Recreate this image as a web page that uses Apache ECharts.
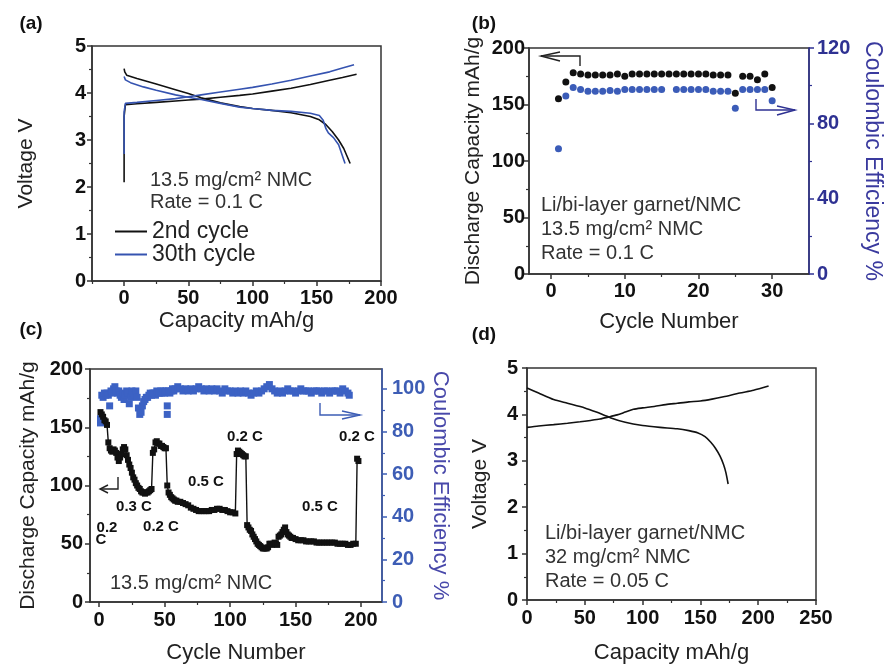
<!DOCTYPE html>
<html><head><meta charset="utf-8">
<script src="https://cdn.jsdelivr.net/npm/echarts@6/dist/echarts.min.js"></script>
<style>html,body{margin:0;padding:0;background:#fff}#c{width:885px;height:665px}</style>
</head><body><div id="c"></div>
<script>
// ---------- DATA ----------
// (a) voltage profiles [capacity mAh/g, voltage V]
const aCycle2Charge = [[0,2.1],[0,3.5],[1,3.75],[10,3.77],[25,3.8],[40,3.83],[50,3.85],[60,3.87],[75,3.91],[90,3.95],[100,3.98],[115,4.04],[130,4.1],[145,4.18],[160,4.27],[170,4.33],[181,4.4]];
const aCycle2Discharge = [[0,4.52],[0.5,4.45],[2,4.38],[10,4.31],[25,4.19],[40,4.07],[50,3.99],[60,3.9],[75,3.79],[90,3.71],[100,3.67],[115,3.63],[130,3.58],[145,3.5],[152,3.43],[157,3.33],[162,3.18],[167,3.0],[171,2.82],[176,2.5]];
const aCycle30Charge = [[0,2.7],[0,3.6],[1,3.78],[10,3.8],[25,3.84],[40,3.88],[50,3.92],[60,3.96],[75,4.02],[90,4.08],[100,4.12],[115,4.19],[130,4.27],[145,4.36],[160,4.45],[170,4.53],[179,4.6]];
const aCycle30Discharge = [[0,4.35],[1,4.28],[5,4.22],[15,4.13],[25,4.06],[40,3.96],[50,3.91],[60,3.86],[75,3.78],[90,3.7],[100,3.67],[115,3.63],[130,3.61],[145,3.57],[152,3.52],[155,3.42],[157,3.25],[159,3.15],[163,3.05],[167,2.9],[172,2.5]];

// (b) cycling at 0.1 C
const bCycles = [1,2,3,4,5,6,7,8,9,10,11,12,13,14,15,16,17,18,19,20,21,22,23,24,25,26,27,28,29,30];
const bCapacity = [155,170,178,177,176,176,176,176,177,175,177,177,177,177,177,177,177,177,177,177,177,176,176,176,160,175,175,172,177,165];
const bEfficiency = [66.5,94.5,99,98,97,97,97,97.5,97,98,98,98,98,98,98,null,98,98,98,98,98,97,97,97,88,98,98,98,98,92];

// (c) rate capability [cycle, value]
const cCapacity = [[1,163],[2,161],[3,159],[4,156],[5,155],[6,152],[7,137],[8,132],[9,130],[10,129],[11,131],[12,130],[13,128],[14,124],[15,121],[16,124],[17,127],[18,131],[19,133],[20,131],[21,126],[22,122],[23,118],[24,115],[25,111],[26,107],[27,105],[28,102],[29,100],[30,98],[31,97],[32,95],[33,94],[34,94],[35,93],[36,94],[37,94],[38,95],[39,96],[40,97],[41,128],[42,131],[43,137],[44,138],[45,136],[46,136],[47,134],[48,134],[49,133],[50,132],[51,132],[52,100],[53,94],[54,92],[55,90],[56,89],[57,88],[58,87],[59,87],[60,86],[62,86],[64,85],[66,84],[68,83],[70,81],[72,80],[74,79],[76,78],[78,78],[80,78],[82,78],[84,78],[86,79],[88,79],[90,80],[92,80],[94,79],[96,79],[98,78],[100,77],[102,77],[104,76],[105,127],[106,130],[107,129],[108,128],[109,127],[110,126],[111,125],[112,125],[113,66],[114,64],[115,62],[116,61],[117,58],[118,56],[119,54],[120,52],[121,50],[122,49],[123,48],[124,47],[125,46],[126,46],[127,46],[128,46],[129,47],[130,50],[131,50],[132,49],[133,50],[134,51],[135,50],[136,49],[137,56],[138,57],[139,58],[140,60],[141,62],[142,64],[143,60],[144,58],[145,57],[146,56],[147,55],[148,55],[150,54],[152,53],[154,53],[156,53],[158,52],[160,52],[162,52],[164,52],[166,51],[168,51],[170,51],[172,51],[174,51],[176,51],[178,51],[180,51],[182,50],[184,50],[186,50],[188,50],[190,49],[192,49],[194,50],[196,50],[197,123],[198,121]];
const cEfficiency = [[1,84],[1,86],[2,97],[3,96],[4,98],[5,97],[6,98],[7,97],[8,92],[9,99],[10,98],[11,100],[12,101],[13,99],[14,98],[15,99],[16,97],[17,96],[18,98],[19,95],[20,97],[21,99],[22,98],[23,93],[24,96],[25,99],[26,98],[27,97],[28,99],[29,96],[30,91],[31,88],[32,89],[33,92],[34,94],[35,95],[36,96],[37,96],[38,97],[39,98],[40,97],[41,98],[42,98],[43,97],[44,99],[45,98],[46,98],[47,99],[48,98],[49,99],[50,98],[51,99],[52,92],[52,88],[53,99],[54,98],[55,99],[56,100],[57,99],[58,100],[60,101],[62,100],[64,99],[66,100],[68,99],[70,100],[72,99],[74,100],[76,101],[78,100],[80,99],[82,100],[84,99],[86,100],[88,99],[90,100],[92,99],[94,98],[96,100],[98,99],[100,99],[102,98],[104,99],[106,98],[108,99],[110,98],[112,99],[114,98],[116,97],[118,98],[120,99],[122,98],[124,99],[126,100],[128,101],[130,102],[132,100],[134,99],[136,98],[138,99],[140,98],[142,99],[144,100],[146,99],[148,99],[150,98],[152,99],[154,100],[156,99],[158,99],[160,99],[162,98],[164,99],[166,99],[168,99],[170,98],[172,99],[174,99],[176,98],[178,99],[180,99],[182,99],[184,98],[186,100],[188,99],[190,98],[191,97]];

// (d) 32 mg/cm2 voltage profile
const dCharge = [[0,3.72],[10,3.75],[23,3.78],[35,3.81],[46,3.84],[55,3.87],[63,3.9],[70,3.94],[78,3.99],[85,4.05],[92,4.11],[100,4.14],[110,4.17],[120,4.21],[130,4.24],[140,4.27],[150,4.29],[160,4.33],[170,4.38],[184,4.46],[196,4.52],[209,4.61]];
const dDischarge = [[0,4.57],[10,4.46],[23,4.32],[35,4.24],[50,4.14],[60,4.05],[72,3.93],[85,3.83],[100,3.76],[115,3.72],[130,3.69],[140,3.65],[148,3.6],[154,3.52],[159,3.4],[163,3.27],[167,3.1],[170,2.92],[172,2.75],[174,2.5]];

// tick labels
const aXTicks=[0,50,100,150,200], aXMinor=[-25,25,75,125,175];
const vTicks=[0,1,2,3,4,5], vMinor=[0.5,1.5,2.5,3.5,4.5];
const bXTicks=[0,10,20,30], bXMinor=[5,15,25];
const capTicks=[0,50,100,150,200], capMinor=[25,75,125,175];
const bRTicks=[0,40,80,120], bRMinor=[20,60,100];
const cXTicks=[0,50,100,150,200], cXMinor=[25,75,125,175];
const cRTicks=[0,20,40,60,80,100], cRMinor=[10,30,50,70,90];
const dXTicks=[0,50,100,150,200,250], dXMinor=[25,75,125,175,225];

// ---------- CHART ----------
const F = "'Liberation Sans', Arial, sans-serif";
const xAxes=[], yAxes=[];
function addAxis(list,o){
  const idx=list.length, col=o.color||'#333';
  list.push({type:'value',gridIndex:o.grid,min:o.min,max:o.max,position:o.pos,
    name:o.name||'',nameLocation:'middle',nameGap:o.nameGap||0,nameRotate:o.nameRotate,
    nameTextStyle:{fontFamily:F,fontSize:o.nameSize||21,color:o.nameColor||'#222'},
    axisLine:{show:true,onZero:false,lineStyle:{color:col,width:1.5}},
    axisTick:{show:true,inside:false,length:5,customValues:o.majors,lineStyle:{color:col,width:1.5}},
    axisLabel:{show:true,customValues:o.majors,margin:o.margin,fontFamily:F,fontSize:20,fontWeight:'bold',color:o.labelColor||'#111'},
    splitLine:{show:false}});
  list.push({type:'value',gridIndex:o.grid,min:o.min,max:o.max,position:o.pos,
    axisLine:{show:false,onZero:false},axisLabel:{show:false},splitLine:{show:false},
    axisTick:{show:true,inside:false,length:3,customValues:o.minors,lineStyle:{color:col,width:1.2}}});
  return idx;
}
const grids=[
  {left:92,top:46,width:289,height:235},
  {left:529,top:48,width:280,height:226},
  {left:90,top:369,width:292,height:235},
  {left:527,top:368,width:289,height:234}
].map(g=>Object.assign(g,{show:true,borderColor:'#333',borderWidth:1.5,backgroundColor:'transparent'}));

const BLUE_R='#2e3192', BLUE_C='#3d5db5';
// (a)
const ax=addAxis(xAxes,{grid:0,min:-25,max:200,majors:aXTicks,minors:aXMinor,pos:'bottom',margin:7,name:'Capacity mAh/g',nameGap:29,nameSize:22});
const ay=addAxis(yAxes,{grid:0,min:0,max:5,majors:vTicks,minors:vMinor,pos:'left',margin:6,name:'Voltage V',nameGap:55,nameSize:21});
// (b)
const bx=addAxis(xAxes,{grid:1,min:-3,max:35,majors:bXTicks,minors:bXMinor,pos:'bottom',margin:7,name:'Cycle Number',nameGap:37,nameSize:22});
const byL=addAxis(yAxes,{grid:1,min:0,max:200,majors:capTicks,minors:capMinor,pos:'left',margin:4,name:'Discharge Capacity mAh/g',nameGap:45,nameSize:21});
const byR=addAxis(yAxes,{grid:1,min:0,max:120,majors:bRTicks,minors:bRMinor,pos:'right',margin:8,color:BLUE_R,labelColor:BLUE_R,name:'Coulombic Efficiency %',nameGap:52,nameSize:23,nameRotate:-90,nameColor:'#3a3a9e'});
// (c)
const cx=addAxis(xAxes,{grid:2,min:-7,max:216,majors:cXTicks,minors:cXMinor,pos:'bottom',margin:8,name:'Cycle Number',nameGap:40,nameSize:22});
const cyL=addAxis(yAxes,{grid:2,min:0,max:200,majors:capTicks,minors:capMinor,pos:'left',margin:7,name:'Discharge Capacity mAh/g',nameGap:51,nameSize:21});
const cyR=addAxis(yAxes,{grid:2,min:0,max:109.3,majors:cRTicks,minors:cRMinor,pos:'right',margin:10,color:BLUE_C,labelColor:BLUE_C,name:'Coulombic Efficiency %',nameGap:45,nameSize:22,nameRotate:-90,nameColor:'#4848aa'});
// (d)
const dx=addAxis(xAxes,{grid:3,min:0,max:250,majors:dXTicks,minors:dXMinor,pos:'bottom',margin:8,name:'Capacity mAh/g',nameGap:42,nameSize:22});
const dy=addAxis(yAxes,{grid:3,min:0,max:5,majors:vTicks,minors:vMinor,pos:'left',margin:9,name:'Voltage V',nameGap:36,nameSize:21});

function line(name,data,xi,yi,color,extra){
  return Object.assign({type:'line',name:name,data:data,xAxisIndex:xi,yAxisIndex:yi,showSymbol:false,symbol:'none',
    lineStyle:{color:color,width:1.6},itemStyle:{color:color},animation:false,z:3},extra||{});
}
const BLACK='#111', BL='#3553b0';
const series=[
  line('2nd cycle',aCycle2Charge,ax,ay,BLACK),
  line('2nd cycle',aCycle2Discharge,ax,ay,BLACK),
  line('30th cycle',aCycle30Charge,ax,ay,BL),
  line('30th cycle',aCycle30Discharge,ax,ay,BL),
  {type:'scatter',name:'capB',data:bCycles.map((c,i)=>[c,bCapacity[i]]),xAxisIndex:bx,yAxisIndex:byL,symbolSize:7,itemStyle:{color:BLACK,opacity:1},animation:false},
  {type:'scatter',name:'effB',data:bCycles.map((c,i)=>bEfficiency[i]==null?null:[c,bEfficiency[i]]).filter(d=>d),xAxisIndex:bx,yAxisIndex:byR,symbolSize:7,itemStyle:{color:'#3b5cb8',opacity:1},animation:false},
  {type:'scatter',name:'effC',data:cEfficiency,xAxisIndex:cx,yAxisIndex:cyR,symbol:'rect',symbolSize:7,itemStyle:{color:'#3c62c4',opacity:1},animation:false},
  {type:'line',name:'capC',data:cCapacity,xAxisIndex:cx,yAxisIndex:cyL,symbol:'rect',symbolSize:6,showSymbol:true,lineStyle:{color:BLACK,width:1.4},itemStyle:{color:BLACK},animation:false},
  line('d1',dCharge,dx,dy,BLACK,{smooth:0.25}),
  line('d2',dDischarge,dx,dy,BLACK,{smooth:0.25})
];

function txt(x,y,t,o){
  return {type:'text',x:x,y:y,z:100,style:Object.assign({text:t,fontFamily:F,fontSize:20,fill:'#333',textVerticalAlign:'middle',verticalAlign:'middle'},o||{})};
}
function poly(pts,color){
  return {type:'polyline',z:100,shape:{points:pts},style:{stroke:color,lineWidth:1.4,fill:null}};
}
const rateStyle={fontSize:15,fontWeight:'bold',fill:'#111',align:'center',textAlign:'center'};
const graphics=[
  txt(31,24,'(a)',{fontSize:19,fontWeight:'bold',fill:'#111',align:'center',textAlign:'center'}),
  txt(484,24,'(b)',{fontSize:19,fontWeight:'bold',fill:'#111',align:'center',textAlign:'center'}),
  txt(31,330,'(c)',{fontSize:19,fontWeight:'bold',fill:'#111',align:'center',textAlign:'center'}),
  txt(484,335,'(d)',{fontSize:19,fontWeight:'bold',fill:'#111',align:'center',textAlign:'center'}),
  txt(150,180,'13.5 mg/cm² NMC'),
  txt(150,202,'Rate = 0.1 C'),
  txt(541,205,'Li/bi-layer garnet/NMC'),
  txt(541,229,'13.5 mg/cm² NMC'),
  txt(541,253,'Rate = 0.1 C'),
  txt(110,583,'13.5 mg/cm² NMC'),
  txt(545,533,'Li/bi-layer garnet/NMC'),
  txt(545,557,'32 mg/cm² NMC'),
  txt(545,581,'Rate = 0.05 C'),
  txt(245,437,'0.2 C',rateStyle),
  txt(357,437,'0.2 C',rateStyle),
  txt(206,482,'0.5 C',rateStyle),
  txt(134,507,'0.3 C',rateStyle),
  txt(161,527,'0.2 C',rateStyle),
  txt(320,507,'0.5 C',rateStyle),
  txt(107,528,'0.2',rateStyle),
  txt(101,540,'C',rateStyle),
  // arrows (b)
  poly([[580,66],[580,56],[541,56]],'#222'),
  poly([[560,52],[541,56],[560,61]],'#222'),
  poly([[756,99],[756,110],[795,110]],BLUE_R),
  poly([[777,106],[795,110],[777,115]],BLUE_R),
  // arrows (c)
  poly([[118,477],[118,489],[100,489]],'#222'),
  poly([[108,485],[100,489],[108,493]],'#222'),
  poly([[320,403],[320,415],[360,415]],BLUE_C),
  poly([[342,411],[360,415],[342,419]],BLUE_C)
];

const chart=echarts.init(document.getElementById('c'),null,{renderer:'canvas'});
chart.setOption({
  backgroundColor:'#fff',
  animation:false,
  grid:grids, xAxis:xAxes, yAxis:yAxes, series:series,
  legend:{data:['2nd cycle','30th cycle'],left:110,top:215,orient:'vertical',icon:'rect',itemWidth:32,itemHeight:2,itemGap:0,
    textStyle:{fontFamily:F,fontSize:23,color:'#222',lineHeight:23},selectedMode:false},
  graphic:graphics
});
</script></body></html>
